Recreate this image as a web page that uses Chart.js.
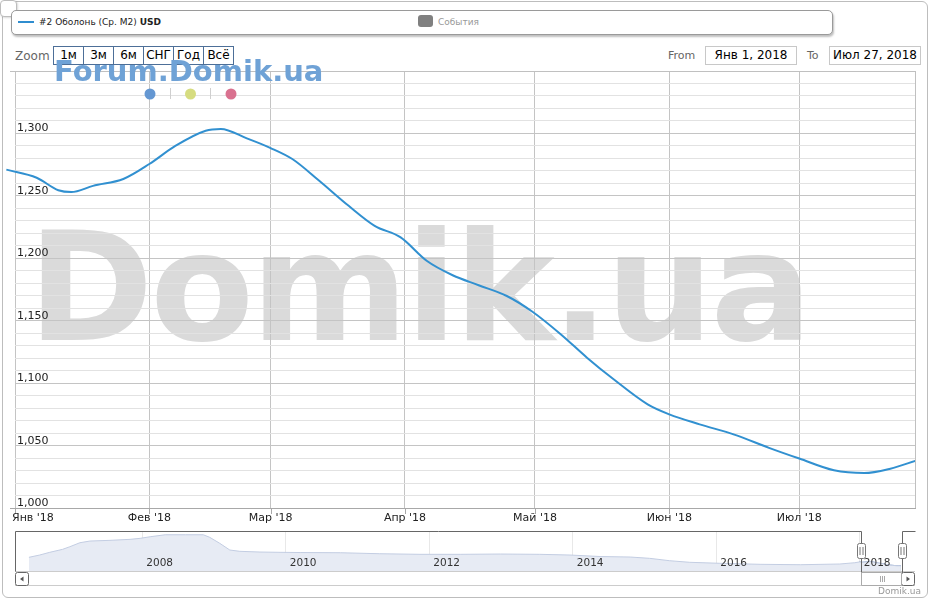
<!DOCTYPE html>
<html>
<head>
<meta charset="utf-8">
<script src="https://cdn.jsdelivr.net/npm/chart.js@4.4.0/dist/chart.umd.min.js"></script>
<style>
  body { margin: 0; background: #fff; font-family: "DejaVu Sans", sans-serif; }
  #wrap { position: relative; width: 931px; height: 600px; overflow: hidden; }
  .box { position: absolute; box-sizing: border-box; }
  #frame { left: 2px; top: 1px; width: 926px; height: 597px; border: 1px solid #bdbdbd; border-radius: 6px; }
  #corner { left: 0; top: 0; width: 17px; height: 17px; border: 1px solid #bdbdbd; border-radius: 4px; background: #fff; box-shadow: 1px 1px 2px rgba(0,0,0,.15); }
  #legend { left: 11px; top: 10px; width: 822px; height: 25px; border: 1px solid #9a9a9a; border-radius: 5px; background: #fff; box-shadow: 1px 2px 2px rgba(0,0,0,.25); font-size: 9px; color: #222; }
  #legend .ln { position: absolute; left: 6px; top: 10px; width: 16px; height: 2px; background: #2f8dcf; }
  #legend .t1 { position: absolute; left: 27px; top: 5px; line-height: 12px; white-space: nowrap; }
  #legend .ev { position: absolute; left: 406px; top: 4px; width: 15px; height: 12px; border-radius: 3px; background: #808080; }
  #legend .t2 { position: absolute; left: 426px; top: 5px; line-height: 12px; color: #999; }
  .lbl { position: absolute; font-size: 12px; color: #666; line-height: 18px; white-space: nowrap; }
  .btn { position: absolute; top: 46px; width: 31px; height: 19px; border: 1px solid #4d6f98; box-sizing: border-box; font-size: 12px; line-height: 17px; text-align: center; color: #000; }
  .inp { position: absolute; top: 46px; width: 92px; height: 19px; border: 1px solid #c8c8c8; box-sizing: border-box; font-size: 12px; line-height: 17px; text-align: center; color: #000; }
  canvas { position: absolute; left: 0; pointer-events: none; }
</style>
</head>
<body>
<div id="wrap">
  <div class="box" id="frame"></div>
  <div class="box" id="corner"></div>
  <div class="box" id="legend">
    <span class="ln"></span>
    <span class="t1">#2 Оболонь (Ср. М2) <b>USD</b></span>
    <span class="ev"></span>
    <span class="t2">События</span>
  </div>
  <div class="lbl" style="left:15px;top:47px;">Zoom</div>
  <div class="btn" style="left:53px;">1м</div>
  <div class="btn" style="left:83px;">3м</div>
  <div class="btn" style="left:113px;">6м</div>
  <div class="btn" style="left:143px;">СНГ</div>
  <div class="btn" style="left:173px;">Год</div>
  <div class="btn" style="left:203px;">Всё</div>
  <div class="lbl" style="left:668px;top:47px;font-size:11px;">From</div>
  <div class="inp" style="left:705px;">Янв 1, 2018</div>
  <div class="lbl" style="left:807px;top:47px;font-size:11px;">To</div>
  <div class="inp" style="left:829px;">Июл 27, 2018</div>
  <canvas id="nav" width="931" height="80" style="top:520px"></canvas>
  <canvas id="main" width="931" height="600" style="top:0"></canvas>
</div>
<script>
// main series: day offset from Jan 1 2018, price USD per m2
const days = [-2, 5, 10, 13, 18, 25, 31, 37, 44, 47.5, 53.5, 59, 64, 70, 77, 83, 89, 95,
  101, 107, 113.5, 119.5, 126, 132, 138, 146, 151, 158, 166, 174, 181, 189, 196, 202, 208];
const prices = [1271, 1264.5, 1254.5, 1253, 1258, 1263.5, 1275.5, 1290, 1302.2, 1303.6, 1296, 1288.3, 1279.5, 1262.7, 1242, 1226, 1216.7, 1198,
  1186.4, 1178.4, 1169.8, 1157, 1139, 1120.4, 1103.5, 1083, 1075, 1067, 1058.8, 1048.2, 1039.6, 1030.2, 1028, 1031.5, 1038];

const monthDays = [0, 31, 59, 90, 120, 151, 181];
const monthLabels = ["Янв '18", "Фев '18", "Мар '18", "Апр '18", "Май '18", "Июн '18", "Июл '18"];
const yLabels = [1000, 1050, 1100, 1150, 1200, 1250, 1300];

// navigator history (fractional year, price)
const navYears = [2006.42, 2006.57, 2006.71, 2006.89, 2006.99, 2007.13, 2007.27, 2007.55, 2007.83, 2007.97,
  2008.11, 2008.32, 2008.60, 2008.85, 2008.94, 2009.08, 2009.22, 2009.36, 2009.64, 2009.92,
  2010.20, 2010.76, 2011.31, 2011.87, 2012.43, 2012.99, 2013.54, 2013.96, 2014.38, 2014.80,
  2015.07, 2015.35, 2015.63, 2016.05, 2016.61, 2017.17, 2017.72, 2017.93];
const navValues = [1563, 1708, 1878, 2067, 2231, 2483, 2590, 2634, 2697, 2760,
  2861, 2987, 2987, 2987, 2823, 2445, 2023, 1941, 1897, 1878,
  1865, 1853, 1790, 1752, 1752, 1771, 1752, 1708, 1614, 1582,
  1500, 1349, 1248, 1185, 1122, 1097, 1141, 1223];
const navYearTicks = [2008, 2010, 2012, 2014, 2016, 2018];

const fmt = v => v.toLocaleString('en-US');

const mainDecor = {
  id: 'mainDecor',
  beforeDraw(chart) {
    const c = chart.ctx;
    c.save();
    c.font = 'bold 151px "DejaVu Sans"';
    c.fillStyle = '#dadada';
    c.letterSpacing = '-3px';
    c.textBaseline = 'alphabetic';
    c.fillText('Domik.ua', 28, 340);
    c.restore();
  },
  afterDraw(chart) {
    const c = chart.ctx, a = chart.chartArea, sx = chart.scales.x, sy = chart.scales.y;
    c.save();
    // right border and axis line
    c.strokeStyle = '#c0c0c0';
    c.lineWidth = 1;
    c.beginPath();
    c.moveTo(a.right + 0.5, a.top); c.lineTo(a.right + 0.5, a.bottom);
    c.moveTo(10, a.top + 0.5); c.lineTo(a.right, a.top + 0.5);
    c.stroke();
    c.strokeStyle = '#a8a8a8';
    c.beginPath();
    c.moveTo(10, a.bottom + 0.5); c.lineTo(a.right + 1, a.bottom + 0.5);
    monthDays.forEach(d => {
      const x = Math.round(sx.getPixelForValue(d)) + 0.5;
      c.moveTo(x, a.bottom); c.lineTo(x, a.bottom + 6);
    });
    c.stroke();
    // x labels
    c.font = '11px "DejaVu Sans"';
    c.fillStyle = '#222';
    c.textBaseline = 'middle';
    monthDays.forEach((d, i) => {
      const x = sx.getPixelForValue(d);
      const w = c.measureText(monthLabels[i]).width;
      const left = Math.max(12, x - w / 2);
      c.textAlign = 'left';
      c.fillText(monthLabels[i], left, a.bottom + 10);
    });
    // y labels
    c.textBaseline = 'alphabetic';
    yLabels.forEach(v => {
      c.fillText(fmt(v), 17, sy.getPixelForValue(v) - 2);
    });
    // forum watermark
    c.font = 'bold 29px "DejaVu Sans"';
    c.fillStyle = '#6fa2d6';
    c.fillText('Forum.Domik.ua', 54, 81);
    // dots
    [['#6497d2', 150], ['#d6dc80', 190.5], ['#d9718f', 231]].forEach(([col, x]) => {
      c.fillStyle = col;
      c.beginPath(); c.arc(x, 94, 5.5, 0, Math.PI * 2); c.fill();
    });
    c.strokeStyle = '#cfcfcf';
    c.beginPath();
    c.moveTo(170.5, 88); c.lineTo(170.5, 99);
    c.moveTo(210.5, 88); c.lineTo(210.5, 99);
    c.stroke();
    c.restore();
  }
};

new Chart(document.getElementById('main'), {
  type: 'line',
  data: {
    datasets: [{
      data: days.map((d, i) => ({ x: d, y: prices[i] })),
      borderColor: '#3190d0',
      borderWidth: 2,
      pointRadius: 0,
      fill: false,
      cubicInterpolationMode: 'monotone',
      clip: { left: 10, top: 5, right: 0, bottom: 5 }
    }]
  },
  options: {
    responsive: false,
    animation: false,
    devicePixelRatio: 1,
    layout: { padding: { left: 15, right: 16, top: 71, bottom: 92 } },
    plugins: { legend: { display: false }, tooltip: { enabled: false } },
    scales: {
      x: {
        type: 'linear', min: 0, max: 207.7,
        afterBuildTicks: s => { s.ticks = monthDays.map(v => ({ value: v })); },
        ticks: { display: false },
        grid: { color: '#c4c4c4', drawTicks: false },
        border: { display: false }
      },
      y: {
        min: 1000, max: 1350,
        ticks: { display: false, stepSize: 10, maxTicksLimit: 100 },
        grid: { color: c => (c.tick.value % 50 === 0 ? '#c4c4c4' : '#e2e2e2'), drawTicks: false },
        border: { display: false }
      }
    }
  },
  plugins: [mainDecor]
});

// navigator
const sel2018 = days.map((d, i) => ({ x: 2018 + d / 365, y: prices[i] }));
const navAll = navYears.map((y, i) => ({ x: y, y: navValues[i] })).concat(sel2018);
const selFrom = 2018, selTo = 2018 + 207.7 / 365;

const navDecor = {
  id: 'navDecor',
  afterDraw(chart) {
    const c = chart.ctx, sx = chart.scales.x;
    const h1 = Math.round(sx.getPixelForValue(selFrom)) + 1.5;
    const h2 = Math.round(sx.getPixelForValue(selTo)) + 1.5;
    c.save();
    c.font = '10.5px "DejaVu Sans"';
    c.fillStyle = '#333';
    c.textBaseline = 'middle';
    navYearTicks.forEach(y => c.fillText(String(y), sx.getPixelForValue(y) + 4, 43));
    // scrollbar track
    c.strokeStyle = '#cccccc';
    c.lineWidth = 1;
    c.beginPath();
    c.moveTo(15, 51.5); c.lineTo(915, 51.5);
    c.moveTo(15, 65.5); c.lineTo(915, 65.5);
    c.stroke();
    // outline
    c.strokeStyle = '#666';
    c.beginPath();
    c.moveTo(15.5, 51.5); c.lineTo(15.5, 11.5); c.lineTo(h1, 11.5); c.lineTo(h1, 53);
    c.moveTo(h2, 53); c.lineTo(h2, 11.5); c.lineTo(915.5, 11.5);
    c.stroke();
    // buttons
    const btn = (x, dir) => {
      c.fillStyle = '#fff'; c.strokeStyle = '#666';
      c.beginPath(); c.roundRect(x + 0.5, 52.5, 13, 13, 2); c.fill(); c.stroke();
      c.fillStyle = '#555';
      c.beginPath();
      const cx = x + 7, cy = 59;
      c.moveTo(cx + dir * 2, cy); c.lineTo(cx - dir * 1.5, cy - 2.5); c.lineTo(cx - dir * 1.5, cy + 2.5);
      c.closePath(); c.fill();
    };
    btn(15, -1);
    btn(901, 1);
    // thumb
    c.fillStyle = '#fff'; c.strokeStyle = '#aaa';
    c.beginPath(); c.rect(h1, 52.5, h2 - h1 - 1, 13); c.fill(); c.stroke();
    const tc = Math.round((h1 + h2) / 2) + 0.5;
    c.beginPath();
    [-2, 0, 2].forEach(o => { c.moveTo(tc + o, 56); c.lineTo(tc + o, 62); });
    c.stroke();
    // handles
    [h1, h2].forEach(hx => {
      c.fillStyle = '#fff'; c.strokeStyle = '#777';
      c.beginPath(); c.roundRect(hx - 4, 23.5, 8, 15, 2); c.fill(); c.stroke();
      c.beginPath();
      c.moveTo(hx - 1.5, 27); c.lineTo(hx - 1.5, 35);
      c.moveTo(hx + 1.5, 27); c.lineTo(hx + 1.5, 35);
      c.stroke();
    });
    // credit
    c.font = '9px "DejaVu Sans"';
    c.fillStyle = '#999';
    c.textAlign = 'right';
    c.fillText('Domik.ua', 921, 72);
    c.restore();
  }
};

new Chart(document.getElementById('nav'), {
  type: 'line',
  data: {
    datasets: [{
      data: navAll,
      borderColor: '#c3cde2',
      backgroundColor: '#e7ebf4',
      borderWidth: 1,
      pointRadius: 0,
      fill: 'start',
      tension: 0
    }, {
      data: sel2018,
      borderColor: '#7490c2',
      backgroundColor: '#b0c0da',
      borderWidth: 1,
      pointRadius: 0,
      fill: 'start',
      tension: 0
    }]
  },
  options: {
    responsive: false,
    animation: false,
    devicePixelRatio: 1,
    layout: { padding: { left: 15, right: 16, top: 12, bottom: 29 } },
    plugins: { legend: { display: false }, tooltip: { enabled: false } },
    scales: {
      x: {
        type: 'linear', min: 2006.226, max: 2018.769,
        afterBuildTicks: s => { s.ticks = navYearTicks.map(v => ({ value: v })); },
        ticks: { display: false },
        grid: { color: '#e8e8e8', drawTicks: false },
        border: { display: false }
      },
      y: {
        min: 700, max: 3160,
        ticks: { display: false },
        grid: { display: false, drawTicks: false },
        border: { display: false }
      }
    }
  },
  plugins: [navDecor]
});
</script>
</body>
</html>
